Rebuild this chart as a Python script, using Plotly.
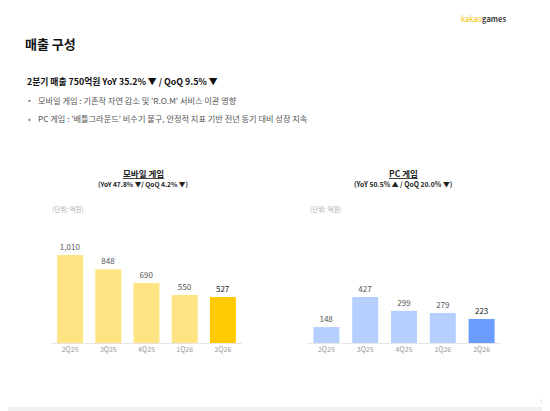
import plotly.graph_objects as go

quarters = ["2Q25", "3Q25", "4Q25", "1Q26", "2Q26"]
mobile_sales = [1010, 848, 690, 550, 527]
pc_sales = [148, 427, 299, 279, 223]

mobile_title = "<b><u>모바일 게임</u></b>"
mobile_sub = "<b>(YoY 47.8% ▼/ QoQ 4.2% ▼)</b>"
pc_title = "<b><u>PC 게임</u></b>"
pc_sub = "<b>(YoY 50.5% ▲ / QoQ 20.0% ▼)</b>"
unit_label = "(단위: 억원)"

headline = "<b>2분기 매출 750억원 YoY 35.2% ▼ / QoQ 9.5% ▼</b>"
bullets = [
    "모바일 게임 : 기존작 자연 감소 및 'R.O.M' 서비스 이관 영향",
    "PC 게임 : '배틀그라운드' 비수기 불구, 안정적 지표 기반 전년 동기 대비 성장 지속",
]

FONT = "Noto Sans CJK KR"
W, H = 550, 411
OFF = 8  # page margin around the plot div


def px(x, y):
    return (x - OFF) / W, 1 - (y - OFF) / H


def label(v):
    return f"{v:,}"


fig = go.Figure()

mobile_colors = ["#FFE484"] * 4 + ["#FFCA00"]
pc_colors = ["#B5CFFF"] * 4 + ["#6A9DFF"]
label_colors = ["#555555"] * 4 + ["#222222"]

fig.add_trace(go.Bar(
    x=quarters, y=mobile_sales, xaxis="x", yaxis="y",
    marker=dict(color=mobile_colors, line=dict(width=0)),
    text=[label(v) for v in mobile_sales], textposition="outside",
    textfont=dict(size=8, color=label_colors, family=FONT),
    cliponaxis=False, width=0.68,
))
fig.add_trace(go.Bar(
    x=quarters, y=pc_sales, xaxis="x2", yaxis="y2",
    marker=dict(color=pc_colors, line=dict(width=0)),
    text=[label(v) for v in pc_sales], textposition="outside",
    textfont=dict(size=8, color=label_colors, family=FONT),
    cliponaxis=False, width=0.67,
))

y_bot = px(0, 343)[1]
y_top = px(0, 200)[1]
axis_common = dict(showgrid=False, zeroline=False, showline=True,
                   linecolor="#E6E6E6", linewidth=1, ticks="",
                   tickfont=dict(size=7, color="#999999", family=FONT))

fig.update_layout(
    width=W, height=H, margin=dict(l=0, r=0, t=0, b=0),
    paper_bgcolor="white", plot_bgcolor="white", showlegend=False,
    font=dict(family=FONT),
    xaxis=dict(domain=[px(51, 0)[0], px(242, 0)[0]], anchor="y", **axis_common),
    yaxis=dict(domain=[y_bot, y_top], range=[0, 1642], visible=False, anchor="x"),
    xaxis2=dict(domain=[px(307, 0)[0], px(501, 0)[0]], anchor="y2", **axis_common),
    yaxis2=dict(domain=[y_bot, y_top], range=[0, 1328], visible=False, anchor="x2"),
)

ann = []


def text(x, y, s, size, color="#222222", xanchor="left"):
    xx, yy = px(x, y)
    ann.append(dict(x=xx, y=yy, xref="paper", yref="paper", text=s, showarrow=False,
                    xanchor=xanchor, yanchor="middle", borderpad=0,
                    font=dict(size=size, color=color, family=FONT)))


text(507, 19, "<span style='color:#F5C400'>kakao</span><b>games</b>", 7.5, "#444444", "right")
text(24, 43, "<b>매출 구성</b>", 13, "#111111")
text(26, 81, headline, 8.8, "#111111")
for i, b in enumerate(bullets):
    text(27, 100 + 18 * i, "•", 8, "#777777")
    text(37, 100 + 18 * i, b, 8.2, "#555555")

text(143, 173, mobile_title, 8.5, "#222222", "center")
text(143, 184, mobile_sub, 6.6, "#222222", "center")
text(51, 209, unit_label, 6.5, "#AAAAAA")
text(403, 173, pc_title, 8.5, "#222222", "center")
text(403, 184, pc_sub, 6.8, "#222222", "center")
text(309, 209, unit_label, 6.5, "#AAAAAA")
text(545, 400, "4", 4, "#999999", "right")

fig.update_layout(annotations=ann)
fig.add_shape(type="rect", xref="paper", yref="paper",
              x0=0, x1=1, y0=px(0, 411)[1], y1=px(0, 407)[1],
              fillcolor="#F0F0F0", line=dict(width=0))

fig.write_html("out.html")
